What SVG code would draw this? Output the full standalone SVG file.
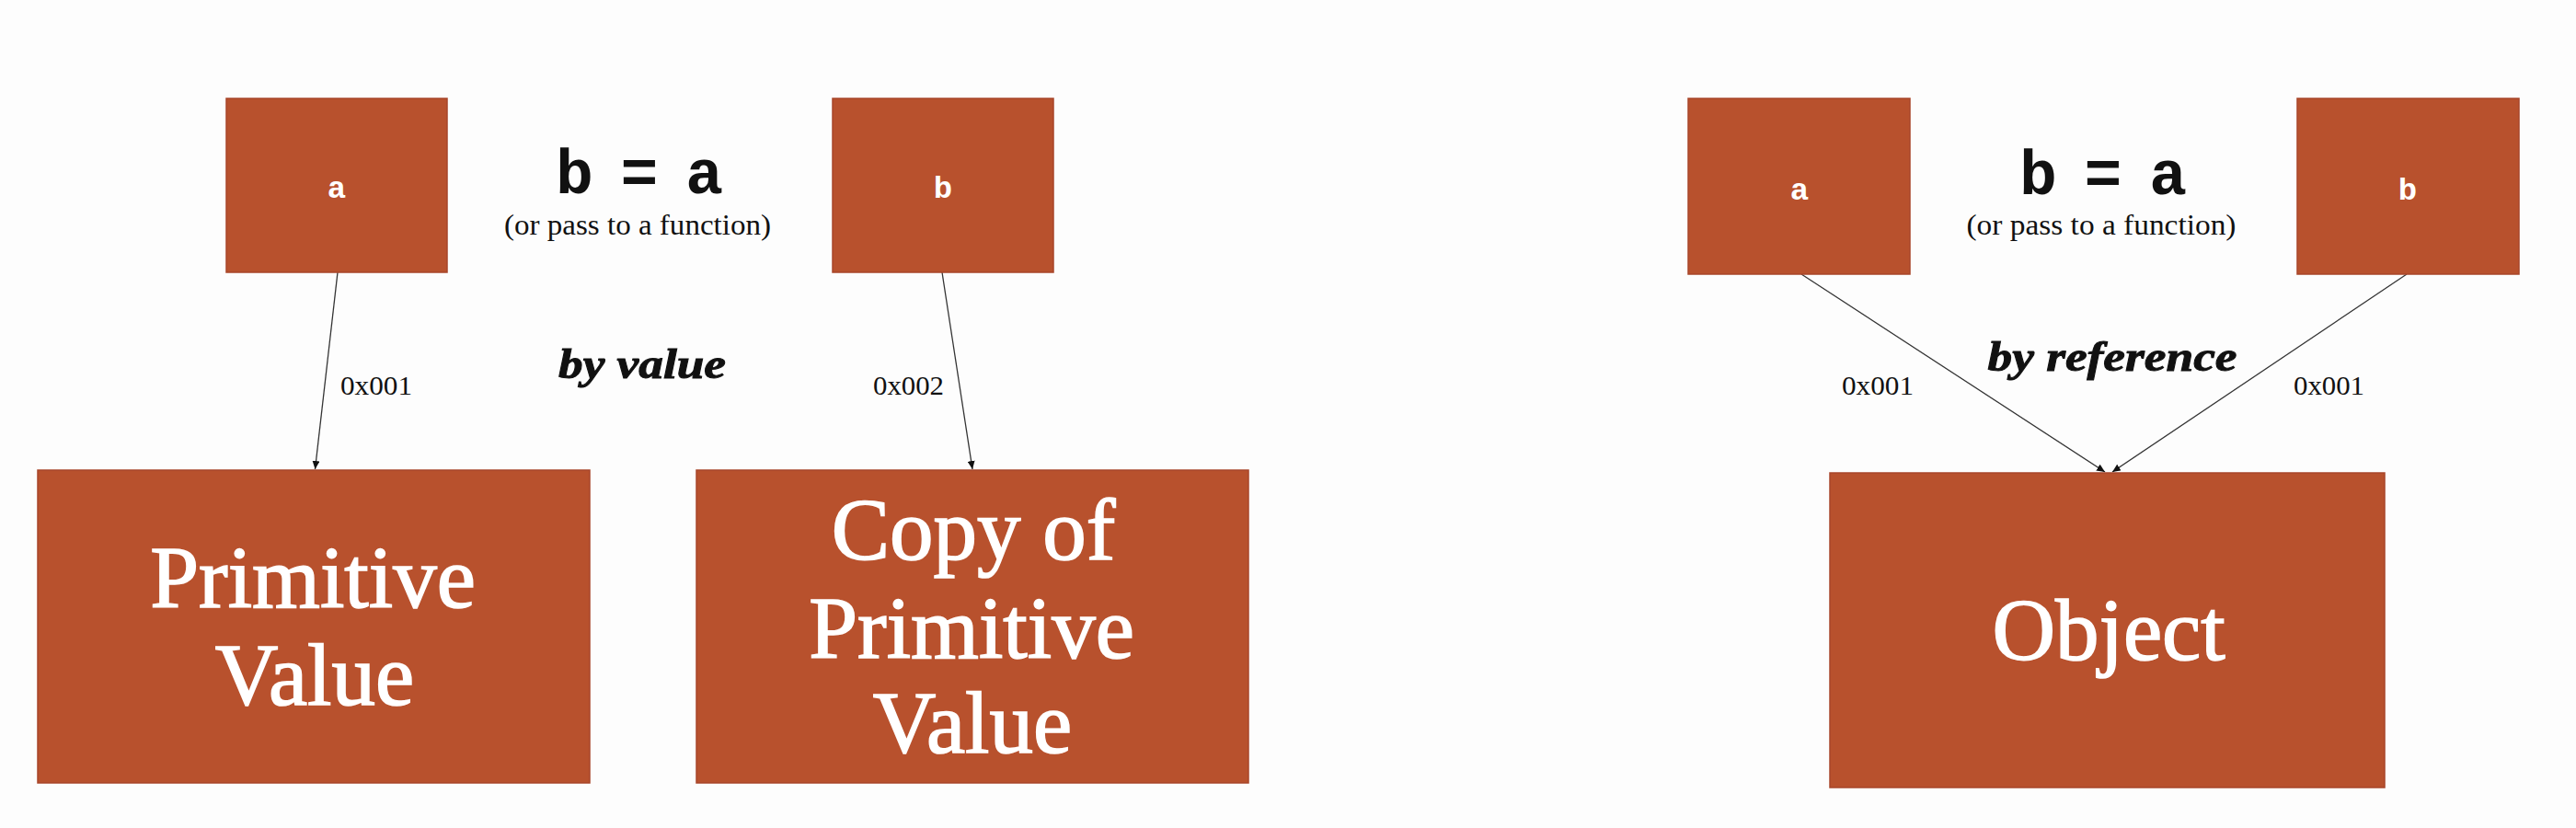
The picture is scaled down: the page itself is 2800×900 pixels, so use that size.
<svg xmlns="http://www.w3.org/2000/svg" width="2800" height="900" viewBox="0 0 2800 900">
<style>
.box{fill:#B8512D;stroke:#A8462A;stroke-width:1.5}
.var{font-family:"Liberation Mono","DejaVu Sans Mono",monospace;font-weight:bold;font-size:34px;fill:#ffffff;text-anchor:middle}
.big{font-family:"Liberation Serif","DejaVu Serif",serif;font-size:95px;fill:#ffffff;stroke:#ffffff;stroke-width:1.6;text-anchor:middle}
.eq{font-family:"Liberation Mono","DejaVu Sans Mono",monospace;font-weight:bold;font-size:68px;fill:#111111;text-anchor:middle}
.sub{font-family:"Liberation Serif","DejaVu Serif",serif;font-size:31px;fill:#111111;text-anchor:middle}
.mode{font-family:"Liberation Serif","DejaVu Serif",serif;font-weight:bold;font-style:italic;font-size:46px;fill:#111111;stroke:#111111;stroke-width:1;text-anchor:middle}
.addr{font-family:"Liberation Serif","DejaVu Serif",serif;font-size:29px;fill:#111111}
.conn{stroke:#333333;stroke-width:1.3;fill:none;marker-end:url(#arrow)}
</style>
<defs>
<marker id="arrow" markerUnits="userSpaceOnUse" markerWidth="9" markerHeight="8" refX="9" refY="4" orient="auto">
<path d="M0,0 L9,4 L0,8 z" fill="#111111"/>
</marker>
</defs>
<rect x="0" y="0" width="2800" height="900" fill="#fdfdfd"/>

<g id="connectors">
<line class="conn" x1="367" y1="296" x2="342.5" y2="510"/>
<line class="conn" x1="1024" y1="296" x2="1057" y2="510"/>
<line class="conn" x1="1958" y1="298" x2="2288" y2="513"/>
<line class="conn" x1="2616" y1="298" x2="2296" y2="513"/>
</g>

<g id="labels">
<text class="eq" x="695" y="210" textLength="182" lengthAdjust="spacing">b = a</text>
<text class="sub" x="693" y="255" textLength="290" lengthAdjust="spacingAndGlyphs">(or pass to a function)</text>
<text class="mode" x="698" y="411" textLength="182" lengthAdjust="spacingAndGlyphs">by value</text>
<text class="addr" x="370" y="429" textLength="78" lengthAdjust="spacingAndGlyphs">0x001</text>
<text class="addr" x="949" y="429" textLength="77" lengthAdjust="spacingAndGlyphs">0x002</text>
<text class="eq" x="2286" y="211" textLength="182" lengthAdjust="spacing">b = a</text>
<text class="sub" x="2284" y="255" textLength="293" lengthAdjust="spacingAndGlyphs">(or pass to a function)</text>
<text class="mode" x="2296" y="403" textLength="271" lengthAdjust="spacingAndGlyphs">by reference</text>
<text class="addr" x="2002" y="429" textLength="78" lengthAdjust="spacingAndGlyphs">0x001</text>
<text class="addr" x="2493" y="429" textLength="77" lengthAdjust="spacingAndGlyphs">0x001</text>
</g>

<g id="node-a-value">
<rect class="box" x="246" y="107" width="240" height="189"/>
<text class="var" x="366" y="215">a</text>
</g>
<g id="node-b-value">
<rect class="box" x="905" y="107" width="240" height="189"/>
<text class="var" x="1025" y="215">b</text>
</g>
<g id="node-primitive">
<rect class="box" x="41" y="511" width="600" height="340"/>
<text class="big" x="340" y="660">Primitive</text>
<text class="big" x="342" y="766">Value</text>
</g>
<g id="node-copy">
<rect class="box" x="757" y="511" width="600" height="340"/>
<text class="big" x="1058" y="608">Copy of</text>
<text class="big" x="1056" y="715">Primitive</text>
<text class="big" x="1057" y="818">Value</text>
</g>
<g id="node-a-ref">
<rect class="box" x="1835" y="107" width="241" height="191"/>
<text class="var" x="1956" y="217">a</text>
</g>
<g id="node-b-ref">
<rect class="box" x="2497" y="107" width="241" height="191"/>
<text class="var" x="2617" y="217">b</text>
</g>
<g id="node-object">
<rect class="box" x="1989" y="514" width="603" height="342"/>
<text class="big" x="2292" y="717">Object</text>
</g>
</svg>
